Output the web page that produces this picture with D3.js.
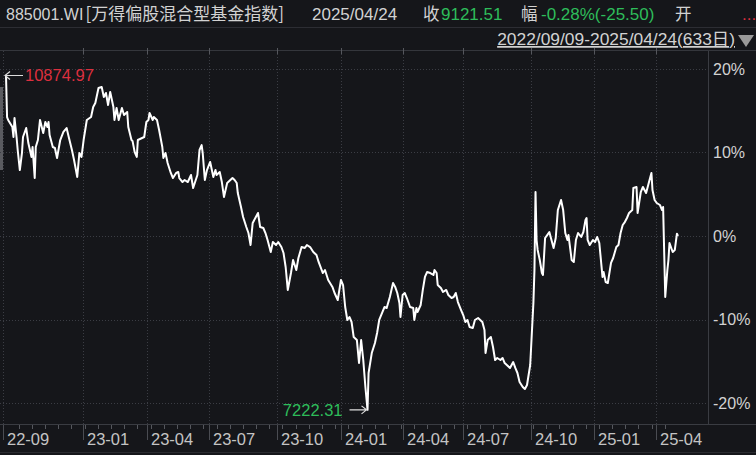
<!DOCTYPE html>
<html>
<head>
<meta charset="utf-8">
<script src="https://cdn.jsdelivr.net/npm/d3@7"></script>
<style>
  html, body { margin: 0; padding: 0; background: #15161a; }
  svg { display: block; }
  text { font-family: "Liberation Sans", Arial, "Noto Sans CJK SC", sans-serif; }
</style>
</head>
<body>
<div id="chart"></div>
<script>
// trading-day index (0 = 2022/09/09, 632 = 2025/04/24) and close
const dayIdx = [
  0, 1, 2, 6, 7, 8, 10, 11, 13, 15, 16, 19, 21, 24, 25, 27, 28, 30, 32, 35,
  37, 39, 40, 41, 44, 46, 48, 51, 54, 57, 59, 62, 64, 67, 69, 71, 73, 76, 80, 82,
  84, 86, 87, 90, 92, 94, 96, 98, 101, 102, 104, 106, 109, 111, 114, 115, 118, 119, 121, 123,
  124, 128, 130, 132, 134, 135, 138, 139, 142, 144, 147, 148, 150, 152, 155, 157, 160, 162, 163, 166,
  168, 171, 174, 176, 180, 182, 184, 185, 187, 189, 192, 195, 197, 198, 201, 203, 205, 208, 211, 213,
  215, 217, 218, 221, 223, 226, 228, 230, 232, 235, 237, 239, 242, 244, 246, 249, 251, 254, 256, 259,
  261, 263, 265, 268, 270, 273, 275, 278, 281, 283, 286, 289, 292, 294, 298, 300, 303, 307, 309, 312,
  315, 317, 319, 321, 323, 325, 327, 330, 332, 334, 336, 338, 340, 341, 344, 347, 349, 351, 354, 356,
  358, 361, 364, 366, 368, 370, 371, 373, 375, 377, 380, 383, 384, 386, 387, 390, 392, 394, 396, 399,
  402, 403, 405, 406, 409, 411, 414, 416, 419, 421, 423, 425, 428, 430, 432, 434, 436, 439, 441, 444,
  448, 450, 451, 453, 456, 458, 460, 462, 465, 467, 469, 471, 474, 477, 479, 481, 483, 486, 488, 490,
  493, 496, 497, 498, 499, 500, 502, 504, 505, 507, 509, 511, 513, 515, 517, 519, 522, 524, 526, 528,
  529, 532, 534, 536, 538, 541, 543, 545, 546, 547, 549, 552, 554, 556, 558, 561, 562, 564, 566, 569,
  571, 574, 576, 578, 580, 582, 584, 586, 589, 590, 593, 594, 597, 599, 602, 604, 607, 608, 610, 612,
  615, 617, 618, 620, 622, 623, 624, 627, 629, 631, 632
];
const closeVals = [
  10874.97, 10421, 10389, 10312, 10203, 10411, 10192, 10061, 9842, 10028, 10203, 10301, 10137, 9985, 10094, 9755, 10094, 10170, 10389, 10247,
  10367, 10312, 10367, 10225, 10094, 10083, 9974, 10170, 10258, 10301, 10203, 10061, 9952, 9766, 10028, 9985, 10170, 10389, 10421, 10531,
  10574, 10684, 10738, 10749, 10640, 10684, 10553, 10695, 10531, 10389, 10520, 10389, 10520, 10443, 10476, 10312, 10170, 10160, 10039, 9985,
  10170, 10192, 10203, 10367, 10389, 10465, 10389, 10421, 10389, 10279, 10094, 9974, 10028, 9919, 9810, 9755, 9810, 9821, 9755, 9711,
  9733, 9711, 9788, 9646, 9788, 10061, 10115, 10028, 9733, 9842, 9930, 9766, 9842, 9788, 9821, 9711, 9548, 9700, 9733, 9755,
  9733, 9700, 9591, 9438, 9329, 9220, 9154, 9023, 9264, 9329, 9373, 9220, 9209, 9154, 9078, 8947, 9056, 9023, 9056, 9001,
  8936, 8783, 8532, 8717, 8859, 8750, 8881, 9001, 8990, 9023, 9001, 8947, 8914, 8838, 8717, 8750, 8641, 8565, 8499, 8422,
  8641, 8586, 8346, 8204, 8237, 8182, 8018, 7985, 7734, 7985, 7767, 7472, 7222.31, 7625, 7843, 7953, 8062, 8204, 8291, 8346,
  8335, 8455, 8608, 8565, 8499, 8390, 8237, 8477, 8499, 8444, 8346, 8335, 8204, 8335, 8291, 8368, 8532, 8674, 8728, 8717,
  8696, 8750, 8717, 8586, 8553, 8510, 8532, 8477, 8444, 8455, 8499, 8400, 8313, 8258, 8182, 8204, 8127, 8116, 8204, 8226,
  8182, 8095, 7843, 7985, 8018, 7909, 7767, 7789, 7767, 7789, 7734, 7712, 7680, 7745, 7680, 7625, 7527, 7472, 7450, 7494,
  7712, 8390, 8750, 9602, 9078, 8969, 8859, 8717, 8696, 9100, 9132, 9165, 9078, 8990, 9100, 9405, 9515, 9405, 9154, 9078,
  9132, 8859, 8837, 9078, 9154, 9111, 9165, 9296, 9318, 9078, 9023, 9078, 9056, 9111, 9045, 8674, 8728, 8619, 8608, 8827,
  8881, 9001, 9023, 9154, 9242, 9274, 9318, 9373, 9405, 9646, 9657, 9373, 9602, 9657, 9591, 9679, 9810, 9624, 9515, 9482,
  9460, 9405, 9438, 8455, 8750, 8859, 9045, 8947, 8969, 9147.01, 9121.51
];

const tickIdx = [0, 75, 135, 194, 258, 318, 376, 433, 497, 556, 614];
const tickLabels = ['22-09', '23-01', '23-04', '23-07', '23-10', '24-01', '24-04', '24-07', '24-10', '25-01', '25-04'];
const pctTicks = [0.2, 0.1, 0, -0.1, -0.2];

const headerCode = '885001.WI';
const headerName = '[万得偏股混合型基金指数]';
const headerDate = '2025/04/24';
const closeText = '9121.51';
const changeText = '-0.28%(-25.50)';
const rangeText = '2022/09/09-2025/04/24(633日)';

const width = 756;
const height = 455;
const plotTop = 51;
const plotBottom = 424;
const plotRight = 708;
const green = '#2ebd5a';
const red = '#dc2f3e';
const textGray = '#d2d2d2';
const gridColor = '#3b3d44';

const svg = d3.select('#chart').append('svg')
    .attr('width', width)
    .attr('height', height);

svg.append('rect')
    .attr('width', width)
    .attr('height', height)
    .attr('fill', '#15161a');

const base = closeVals[closeVals.length - 1];
const x = d3.scaleLinear().domain([0, 632]).range([6, 678]);
const y = d3.scaleLinear().domain([-0.2, 0.2]).range([403, 69]);

// header
function headText(str, xPos, color, size) {
  return svg.append('text')
      .text(str)
      .attr('x', xPos)
      .attr('y', 20)
      .attr('fill', color)
      .style('font-size', (size || 17) + 'px');
}
const nameText = headText(headerCode, 6, textGray, 16);
nameText.append('tspan')
    .text(headerName)
    .attr('dx', 2)
    .style('font-size', '17px')
    .style('font-family', '"Noto Sans CJK SC", sans-serif');
headText(headerDate, 312, textGray);
headText('收', 423, textGray, 16.5);
headText(closeText, 441, green);
headText('幅', 521, textGray, 16.5);
headText(changeText, 541, green);
headText('开', 675, textGray, 16.5);
headText('...', 742, red);

svg.append('line')
    .attr('x1', 0).attr('x2', width)
    .attr('y1', 27.5).attr('y2', 27.5)
    .attr('stroke', '#2c2d33');

svg.append('text')
    .text(rangeText)
    .attr('x', 735)
    .attr('y', 45)
    .attr('text-anchor', 'end')
    .attr('fill', textGray)
    .attr('text-decoration', 'underline')
    .style('font-size', '17.4px');

svg.append('path')
    .attr('d', 'M738,35 L754,35 L746,47 Z')
    .attr('fill', '#9a9a9a');

// frame
svg.append('line')
    .attr('x1', 0).attr('x2', width)
    .attr('y1', plotTop - 0.5).attr('y2', plotTop - 0.5)
    .attr('stroke', '#34363c');
svg.append('line')
    .attr('x1', 0).attr('x2', width)
    .attr('y1', plotBottom + 0.5).attr('y2', plotBottom + 0.5)
    .attr('stroke', '#3a3c42');
svg.append('line')
    .attr('x1', 0).attr('x2', width)
    .attr('y1', 452.5).attr('y2', 452.5)
    .attr('stroke', '#2a2b30');
svg.append('line')
    .attr('x1', plotRight + 0.5).attr('x2', plotRight + 0.5)
    .attr('y1', plotTop).attr('y2', plotBottom)
    .attr('stroke', '#3a3c42');

// left scroll handle
svg.append('rect')
    .attr('x', 0).attr('y', 87)
    .attr('width', 3).attr('height', 83)
    .attr('fill', '#5a5b60');

// horizontal grid + right axis
const yAxis = d3.axisRight(y)
    .tickValues(pctTicks)
    .tickSize(0)
    .tickPadding(4)
    .tickFormat(d => Math.round(d * 100) + '%');

svg.append('g')
    .attr('transform', `translate(${plotRight + 1},0)`)
    .call(yAxis)
    .call(g => g.select('.domain').remove())
    .call(g => g.selectAll('text')
        .attr('fill', textGray)
        .style('font-size', '16px')
        .style('font-family', '"Liberation Sans", Arial, sans-serif'));

svg.append('g')
    .selectAll('line')
    .data(pctTicks)
    .enter()
    .append('line')
    .attr('x1', 0)
    .attr('x2', plotRight)
    .attr('y1', d => Math.round(y(d)) + 0.5)
    .attr('y2', d => Math.round(y(d)) + 0.5)
    .attr('stroke', gridColor)
    .attr('stroke-dasharray', '1,2');

// vertical grid
svg.append('g')
    .selectAll('line')
    .data(tickIdx)
    .enter()
    .append('line')
    .attr('x1', d => Math.round(x(d)) - 2.5)
    .attr('x2', d => Math.round(x(d)) - 2.5)
    .attr('y1', plotTop)
    .attr('y2', plotBottom)
    .attr('stroke', gridColor)
    .attr('stroke-dasharray', '1,2');

// little marks on the top border
svg.append('g')
    .selectAll('line')
    .data(tickIdx.slice(1))
    .enter()
    .append('line')
    .attr('x1', d => Math.round(x(d)) - 2.5)
    .attr('x2', d => Math.round(x(d)) - 2.5)
    .attr('y1', plotTop - 3)
    .attr('y2', plotTop + 3)
    .attr('stroke', '#55575d');

// bottom axis: minor ticks, major ticks and labels
const minorTicks = d3.range(12, 632, 12.4);
svg.append('g')
    .selectAll('line')
    .data(minorTicks)
    .enter()
    .append('line')
    .attr('x1', d => Math.round(x(d)) + 0.5)
    .attr('x2', d => Math.round(x(d)) + 0.5)
    .attr('y1', plotBottom + 1)
    .attr('y2', plotBottom + 5)
    .attr('stroke', '#55575d');

svg.append('g')
    .selectAll('line')
    .data(tickIdx)
    .enter()
    .append('line')
    .attr('x1', d => Math.round(x(d)) - 2.5)
    .attr('x2', d => Math.round(x(d)) - 2.5)
    .attr('y1', plotBottom + 1)
    .attr('y2', plotBottom + 16)
    .attr('stroke', '#4a4c52');

svg.append('g')
    .selectAll('text')
    .data(tickIdx)
    .enter()
    .append('text')
    .text((d, i) => tickLabels[i])
    .attr('x', d => Math.round(x(d)) + 1)
    .attr('y', 445)
    .attr('fill', '#c4c4c4')
    .style('font-size', '16.5px');

// the index line
const line = d3.line()
    .x((d, i) => x(dayIdx[i]))
    .y(d => y(d / base - 1));

svg.append('path')
    .datum(closeVals)
    .attr('d', line)
    .attr('fill', 'none')
    .attr('stroke', '#ffffff')
    .attr('stroke-width', 2)
    .attr('stroke-linejoin', 'round');

// max / min markers
const maxVal = d3.max(closeVals);
const minVal = d3.min(closeVals);
const maxI = closeVals.indexOf(maxVal);
const minI = closeVals.indexOf(minVal);
const maxX = x(dayIdx[maxI]);
const maxY = y(maxVal / base - 1);
const minX = x(dayIdx[minI]);
const minY = y(minVal / base - 1);

svg.append('path')
    .attr('d', `M${maxX - 1},${maxY} L${maxX + 17},${maxY} M${maxX + 4},${maxY - 4} L${maxX - 1},${maxY} L${maxX + 4},${maxY + 4}`)
    .attr('fill', 'none')
    .attr('stroke', '#dddddd')
    .attr('stroke-width', 1.2);

svg.append('text')
    .text(maxVal.toFixed(2))
    .attr('x', maxX + 19)
    .attr('y', maxY + 6)
    .attr('fill', red)
    .style('font-size', '16.5px');

svg.append('path')
    .attr('d', `M${minX - 18},${minY} L${minX - 1},${minY} M${minX - 6},${minY - 4} L${minX - 1},${minY} L${minX - 6},${minY + 4}`)
    .attr('fill', 'none')
    .attr('stroke', '#dddddd')
    .attr('stroke-width', 1.2);

svg.append('text')
    .text(minVal.toFixed(2))
    .attr('x', minX - 25)
    .attr('y', minY + 6)
    .attr('text-anchor', 'end')
    .attr('fill', green)
    .style('font-size', '16.5px');
</script>
</body>
</html>
